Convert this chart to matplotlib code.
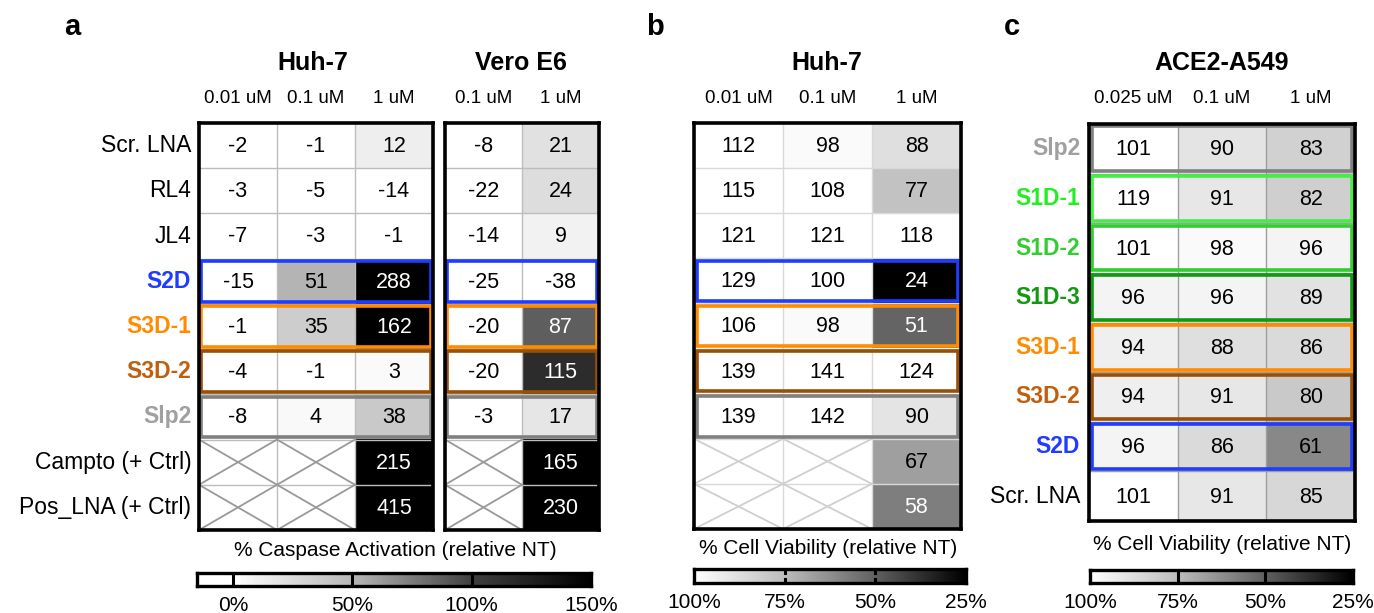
import numpy as np
import matplotlib
matplotlib.use("Agg")
import matplotlib.pyplot as plt
from matplotlib.colors import LinearSegmentedColormap, Normalize
from matplotlib.patches import Rectangle

plt.rcParams['font.family'] = ['Liberation Sans', 'DejaVu Sans']

# ---- data ----
rows_a = ["Scr. LNA", "RL4", "JL4", "S2D", "S3D-1", "S3D-2", "Slp2", "Campto (+ Ctrl)", "Pos_LNA (+ Ctrl)"]
row_colors_a = ["black", "black", "black", "#1f3cff", "#ff8c00", "#c0600f", "#a0a0a0", "black", "black"]
box_colors_a = [None, None, None, "#1f3cff", "#ff8c00", "#9a4f06", "#808080", None, None]
nan = np.nan
huh_cols = ["0.01 uM", "0.1 uM", "1 uM"]
huh_casp = [[-2, -1, 12], [-3, -5, -14], [-7, -3, -1], [-15, 51, 288], [-1, 35, 162],
            [-4, -1, 3], [-8, 4, 38], [nan, nan, 215], [nan, nan, 415]]
vero_cols = ["0.1 uM", "1 uM"]
vero_casp = [[-8, 21], [-22, 24], [-14, 9], [-25, -38], [-20, 87], [-20, 115],
             [-3, 17], [nan, 165], [nan, 230]]
huh_viab = [[112, 98, 88], [115, 108, 77], [121, 121, 118], [129, 100, 24], [106, 98, 51],
            [139, 141, 124], [139, 142, 90], [nan, nan, 67], [nan, nan, 58]]

rows_c = ["Slp2", "S1D-1", "S1D-2", "S1D-3", "S3D-1", "S3D-2", "S2D", "Scr. LNA"]
row_colors_c = ["#a0a0a0", "#22ee22", "#33cc33", "#119911", "#ff8c00", "#c0600f", "#1f3cff", "black"]
box_colors_c = ["#808080", "#44ee44", "#33cc33", "#119911", "#ff8c00", "#9a4f06", "#1f3cff", None]
a549_cols = ["0.025 uM", "0.1 uM", "1 uM"]
a549_viab = [[101, 90, 83], [119, 91, 82], [101, 98, 96], [96, 96, 89], [94, 88, 86],
             [94, 91, 80], [96, 86, 61], [101, 91, 85]]

casp_ticks = [0, 50, 100, 150]
viab_ticks = [100, 75, 50, 25]

W, H = 1374, 613
fig = plt.figure(figsize=(W / 100, H / 100), dpi=100)
TITLE_FONT = ['Liberation Sans Narrow', 'Liberation Sans', 'DejaVu Sans']


def pax(l, t, r, b):
    ax = fig.add_axes([l / W, 1 - b / H, (r - l) / W, (b - t) / H])
    return ax


def gray(v):
    return (v, v, v)


# piecewise grey ramps (0, 50, 100, 150 %) and (25, 50, 75, 100 %)
w2k = LinearSegmentedColormap.from_list(
    "w2k", [(0, gray(1.0)), (1 / 3, gray(0.72)), (2 / 3, gray(0.25)), (1, gray(0.0))])
w2k.set_bad("white")
k2w = LinearSegmentedColormap.from_list(
    "k2w", [(0, gray(0.0)), (1 / 3, gray(0.38)), (2 / 3, gray(0.74)), (1, gray(1.0))])
k2w.set_bad("white")
norm_casp = Normalize(0, 150, clip=True)
norm_viab = Normalize(25, 100, clip=True)


def heat(ax, vals, cmap, norm, grid_col, box_colors, cross_col):
    v = np.array(vals, dtype=float)
    nr, nc = v.shape
    m = np.ma.masked_invalid(v)
    ax.imshow(m, cmap=cmap, norm=norm, extent=(0, nc, nr, 0), aspect="auto",
              interpolation="nearest")
    ax.set_xlim(0, nc)
    ax.set_ylim(nr, 0)
    for j in range(1, nc):
        ax.plot([j, j], [0, nr], color=grid_col, lw=1.0, zorder=2)
    for i in range(1, nr):
        ax.plot([0, nc], [i, i], color=grid_col, lw=1.0, zorder=2)
    for i in range(nr):
        for j in range(nc):
            if np.isnan(v[i, j]):
                ax.plot([j, j + 1], [i, i + 1], color=cross_col, lw=1.3, zorder=2)
                ax.plot([j, j + 1], [i + 1, i], color=cross_col, lw=1.3, zorder=2)
                continue
            g = cmap(norm(v[i, j]))[0]
            tc = "white" if g < 0.52 else "black"
            ax.text(j + 0.5, i + 0.52, "%d" % v[i, j], ha="center", va="center",
                    fontsize=15.5, color=tc, zorder=4)
    for i, bc in enumerate(box_colors):
        if bc is None:
            continue
        ax.add_patch(Rectangle((0.03, i + 0.05), nc - 0.06, 0.9, fill=False,
                               ec=bc, lw=2.6, zorder=5))
    ax.set_xticks([])
    ax.set_yticks([])
    for s in ax.spines.values():
        s.set_linewidth(2.6)
        s.set_color("black")
        s.set_zorder(6)


def headers(ax, cols):
    for j, c in enumerate(cols):
        ax.text(j + 0.5, -0.35, c, ha="center", va="bottom", fontsize=13.5,
                clip_on=False)


def cbar(ax, lo, hi, ticks, sep, solid):
    a, b = min(lo, hi), max(lo, hi)
    xs = np.linspace(a, b, 400)
    if lo < hi:
        cmap, nrm = w2k, norm_casp
    else:
        cmap, nrm = k2w, norm_viab
    ax.imshow(xs[None, :], cmap=cmap, norm=nrm, extent=(a, b, 0, 1), aspect="auto")
    ax.set_xlim(lo, hi)
    ax.set_ylim(0, 1)
    for x in sep:
        if solid:
            ax.plot([x, x], [0, 1], color="black", lw=2.2)
        else:
            ax.plot([x, x], [0, 0.3], color="black", lw=2.2)
            ax.plot([x, x], [0.7, 1], color="black", lw=2.2)
    ax.set_yticks([])
    ax.set_xticks(ticks)
    ax.set_xticklabels(["%d%%" % t for t in ticks], fontsize=15)
    ax.tick_params(axis="x", length=0, pad=7)
    for s in ax.spines.values():
        s.set_linewidth(2.4)


# ---- panel a ----
ax1 = pax(199, 123, 433, 530)
heat(ax1, huh_casp, w2k, norm_casp, "#bdbdbd", box_colors_a, "#999999")
headers(ax1, huh_cols)
for i, (r, c) in enumerate(zip(rows_a, row_colors_a)):
    bold = c != "black"
    ax1.text(-0.1, i + 0.5, r, ha="right", va="center", fontsize=16.5, color=c,
             fontweight="bold" if bold else "normal", clip_on=False)
ax2 = pax(445, 123, 599, 530)
heat(ax2, vero_casp, w2k, norm_casp, "#bdbdbd", box_colors_a, "#999999")
headers(ax2, vero_cols)

fig.text(313 / W, 1 - 63 / H, "Huh-7", ha="center", va="center", fontsize=18,
         fontweight="bold", family=TITLE_FONT)
fig.text(521 / W, 1 - 63 / H, "Vero E6", ha="center", va="center", fontsize=18,
         fontweight="bold", family=TITLE_FONT)
fig.text(72 / W, 1 - 27 / H, "a", ha="center", va="center", fontsize=21, fontweight="bold")

fig.text(395 / W, 1 - 550 / H, "% Caspase Activation (relative NT)", ha="center", va="center", fontsize=15)
cb1 = pax(197, 573, 591, 586)
cbar(cb1, -15, 150, casp_ticks, [0, 50, 100], True)

# ---- panel b ----
ax3 = pax(694, 123, 961, 529)
heat(ax3, huh_viab, k2w, norm_viab, "#d9d9d9", box_colors_a, "#cfcfcf")
headers(ax3, huh_cols)
fig.text(827 / W, 1 - 63 / H, "Huh-7", ha="center", va="center", fontsize=18,
         fontweight="bold", family=TITLE_FONT)
fig.text(655 / W, 1 - 27 / H, "b", ha="center", va="center", fontsize=21, fontweight="bold")
fig.text(828 / W, 1 - 548 / H, "% Cell Viability (relative NT)", ha="center", va="center", fontsize=15)
cb2 = pax(694, 569, 966, 583)
cbar(cb2, 100, 25, viab_ticks, [75, 50], False)

# ---- panel c ----
ax4 = pax(1089, 124, 1355, 521)
heat(ax4, a549_viab, k2w, norm_viab, "#9e9e9e", box_colors_c, "#cfcfcf")
headers(ax4, a549_cols)
for i, (r, c) in enumerate(zip(rows_c, row_colors_c)):
    bold = c != "black"
    ax4.text(-0.1, i + 0.5, r, ha="right", va="center", fontsize=16.5, color=c,
             fontweight="bold" if bold else "normal", clip_on=False)
fig.text(1222 / W, 1 - 63 / H, "ACE2-A549", ha="center", va="center", fontsize=18,
         fontweight="bold", family=TITLE_FONT)
fig.text(1012 / W, 1 - 27 / H, "c", ha="center", va="center", fontsize=21, fontweight="bold")
fig.text(1222 / W, 1 - 545 / H, "% Cell Viability (relative NT)", ha="center", va="center", fontsize=15)
cb3 = pax(1090, 570, 1353, 583)
cbar(cb3, 100, 25, viab_ticks, [75, 50], True)

fig.savefig("out.png", dpi=100)
